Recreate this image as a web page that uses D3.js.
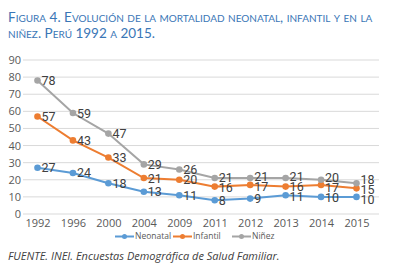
<!DOCTYPE html>
<html><head><meta charset="utf-8">
<script src="https://cdn.jsdelivr.net/npm/d3@7"></script>
<style>body{margin:0;background:#fff}svg{display:block}</style>
</head><body>
<svg id="c" width="399" height="270"></svg>
<script>
const years = ["1992","1996","2000","2004","2009","2011","2012","2013","2014","2015"];
const neonatal = [27,24,18,13,11,8,9,11,10,10];
const infantil = [57,43,33,21,20,16,17,16,17,15];
const ninez = [78,59,47,29,26,21,21,21,20,18];
const yTicks = [0,10,20,30,40,50,60,70,80,90];
const seriesNames = ["Neonatal","Infantil","Niñez"];
const titleLines = ["Figura 4. Evolución de la mortalidad neonatal, infantil y en la","niñez. Perú 1992 a 2015."];
const sourceText = "FUENTE. INEI. Encuestas Demográfica de Salud Familiar.";

const colors = ["#5b9bd5","#ed7d31","#a5a5a5"];
const svg = d3.select("#c");
const x = d3.scalePoint().domain(years).range([37.5,356.5]);
const y = d3.scaleLinear().domain([0,90]).range([214,60]);

// title in small caps
const tFont = "Lato, 'Open Sans', sans-serif";
titleLines.forEach((line,i)=>{
  const t = svg.append("text").attr("x",8).attr("y",22+i*16)
    .attr("fill","#3a76b6").style("font-family",tFont);
  const runs = [];
  for (const ch of line){
    const k = ch !== ch.toUpperCase() ? "s" : "b";
    if (runs.length && runs[runs.length-1].k===k) runs[runs.length-1].s += ch;
    else runs.push({k, s:ch});
  }
  runs.forEach(r=>{
    t.append("tspan").attr("font-size", r.k==="s"?10:13.5).text(r.k==="s"?r.s.toUpperCase():r.s);
  });
});

// grid
svg.append("g").selectAll("line").data(yTicks).join("line")
  .attr("x1",23).attr("x2",379).attr("y1",d=>y(d)).attr("y2",d=>y(d))
  .attr("stroke","#d9d9d9").attr("stroke-width",1);

// y axis labels
const yAxis = d3.axisLeft(y).tickValues(yTicks).tickSize(0).tickPadding(0);
svg.append("g").attr("transform","translate(21,0)").call(yAxis)
  .call(s=>s.select(".domain").remove())
  .selectAll("text").attr("fill","#595959").style("font-family","'Open Sans', sans-serif").style("font-size","11px");

// x axis labels
const xAxis = d3.axisBottom(x).tickSize(0).tickPadding(0);
svg.append("g").attr("transform","translate(0,219.5)").call(xAxis)
  .call(s=>s.select(".domain").remove())
  .selectAll("text").attr("fill","#595959").style("font-family","'Open Sans', sans-serif").style("font-size","11px");

const series = [neonatal, infantil, ninez];
const line = d3.line().x((d,i)=>x(years[i])).y(d=>y(d));
series.forEach((vals,si)=>{
  svg.append("path").datum(vals).attr("d",line).attr("fill","none")
    .attr("stroke",colors[si]).attr("stroke-width",2);
  svg.selectAll(null).data(vals).join("circle")
    .attr("cx",(d,i)=>x(years[i])).attr("cy",d=>y(d)).attr("r",3.3).attr("fill",colors[si]);
});

// label positions with simple collision avoidance per year
const labelY = series.map(vals=>vals.map(v=>y(v)));
const minGap = 10;
years.forEach((yr,i)=>{
  const order = [2,1,0]; // top to bottom
  for (let it=0; it<20; it++){
    for (let k=0;k<order.length-1;k++){
      const a=order[k], b=order[k+1];
      const gap = labelY[b][i]-labelY[a][i];
      if (gap<minGap){ const d=(minGap-gap)/2; labelY[a][i]-=d; labelY[b][i]+=d; }
    }
  }
});
series.forEach((vals,si)=>{
  svg.selectAll(null).data(vals).join("text")
    .attr("x",(d,i)=>x(years[i])+4).attr("y",(d,i)=>labelY[si][i]).attr("dy","0.36em")
    .attr("fill","#404040").style("font-family","'Liberation Sans Narrow', 'Roboto', sans-serif").style("font-size","12.5px")
    .text(d=>d);
});

// legend
const lg = svg.append("g").attr("transform","translate(0,236.5)");
const legX = [115,173,232];
seriesNames.forEach((n,i)=>{
  lg.append("line").attr("x1",legX[i]).attr("x2",legX[i]+19).attr("stroke",colors[i]).attr("stroke-width",2);
  lg.append("circle").attr("cx",legX[i]+9.5).attr("r",2.5).attr("fill",colors[i]);
  lg.append("text").attr("x",legX[i]+20).attr("dy","0.35em").attr("fill","#595959")
    .style("font-family","'Open Sans', sans-serif").style("font-size","8.5px").text(n);
});

svg.append("text").attr("x",8).attr("y",260).attr("fill","#404040")
  .style("font-family","'Open Sans', sans-serif").style("font-size","11px").style("font-style","italic")
  .text(sourceText);
</script>
</body></html>
